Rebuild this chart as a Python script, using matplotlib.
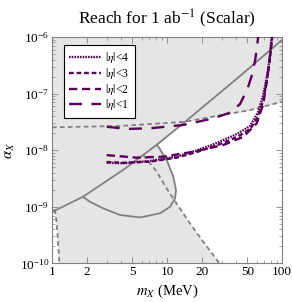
#!/usr/bin/env python3
"""Reach for 1 ab^-1 (Scalar): alpha_X vs m_X with existing bounds shaded."""
import matplotlib

matplotlib.use("Agg")
import matplotlib.pyplot as plt
import numpy as np

# existing constraints
diag_x = [1.0, 1.86, 4.14, 8.19, 14.3, 40.0, 96.0, 100.0]
diag_y = [8.1e-10, 1.51e-9, 4.47e-9, 1.26e-8, 3.16e-8, 1.8e-7, 8.26e-7, 8.85e-7]

top_x = [1.0, 3.9, 14.3, 30.0, 52.7, 100.0]
top_y = [2.54e-8, 2.68e-8, 3.18e-8, 4.2e-8, 5.1e-8, 7.2e-8]

loop_x = [8.19, 9.94, 11.35, 11.97, 11.74, 10.6, 8.69, 5.82, 3.9, 2.79, 2.14, 1.85]
loop_y = [1.26e-8, 6.7e-9, 3.4e-9, 1.98e-9, 1.41e-9, 1.0e-9, 7.7e-10, 6.5e-10,
          7.2e-10, 9.4e-10, 1.23e-9, 1.51e-9]

bd_left_x = [1.06, 1.09, 1.12, 1.15, 1.17]
bd_left_y = [9e-10, 6e-10, 3e-10, 1.4e-10, 8e-11]
bd_right_x = [6.22, 8.13, 9.94, 12.1, 15.85, 20.7, 27.9, 28.7]
bd_right_y = [8.2e-9, 4.2e-9, 2.1e-9, 1.15e-9, 5.1e-10, 2.4e-10, 1.07e-10, 8.5e-11]

# projected reach curves
eta4_x = [2.99, 4.17, 7.1, 12.1, 18.1, 27.0, 40.4, 52.7, 61.8, 68.4, 74.1, 78.7, 81.0]
eta4_y = [6.0e-9, 5.9e-9, 6.45e-9, 7.7e-9, 9.9e-9, 1.34e-8, 1.93e-8, 2.68e-8,
          4.7e-8, 9.1e-8, 2.1e-7, 4.8e-7, 1e-6]
eta3_x = [2.99, 4.17, 7.1, 12.1, 18.1, 27.0, 40.4, 52.7, 61.8, 68.4, 74.1, 78.7, 82.0]
eta3_y = [6.2e-9, 6.0e-9, 6.3e-9, 7.4e-9, 9.3e-9, 1.22e-8, 1.7e-8, 2.35e-8,
          3.9e-8, 7.5e-8, 1.8e-7, 4.3e-7, 1e-6]
eta2_x = [2.99, 5.45, 9.29, 16.9, 30.9, 46.1, 60.3, 68.8, 76.0, 81.3, 83.0]
eta2_y = [8.2e-9, 7.4e-9, 7.7e-9, 9.4e-9, 1.24e-8, 1.73e-8, 3.0e-8, 6.7e-8,
          2.6e-7, 8.85e-7, 1e-6]
eta1_x = [2.99, 4.5, 7.1, 13.9, 25.3, 34.1, 43.0, 50.0, 55.0, 58.5, 62.0]
eta1_y = [2.6e-8, 2.38e-8, 2.44e-8, 2.8e-8, 3.66e-8, 4.5e-8, 6.5e-8, 1.2e-7,
          2.2e-7, 4e-7, 1e-6]

x_ticks = [1, 2, 5, 10, 20, 50, 100]
y_ticks = [1e-10, 1e-9, 1e-8, 1e-7, 1e-6]

PURPLE = "#5a005a"
GRAY = "#808080"
SHADE = "#e5e5e5"

plt.rcParams.update(
    {
        "font.family": "serif",
        "font.serif": ["Liberation Serif", "DejaVu Serif"],
        "mathtext.fontset": "stix",
        "font.size": 9,
    }
)

fig = plt.figure(figsize=(2.92, 3.02), dpi=100)
ax = fig.add_axes([0.178, 0.1275, 0.788, 0.75])
ax.set_xscale("log")
ax.set_yscale("log")
ax.set_xlim(1, 100)
ax.set_ylim(1e-10, 1e-6)

# shaded excluded regions
ax.fill_between(diag_x, diag_y, 1e-5, color=SHADE, linewidth=0, zorder=0)
ax.fill_between(top_x, top_y, 1e-5, color=SHADE, linewidth=0, zorder=0)
ax.fill(bd_left_x + bd_right_x[::-1], bd_left_y + bd_right_y[::-1],
        color=SHADE, linewidth=0, zorder=0)
ax.fill(loop_x, loop_y, color=SHADE, linewidth=0, zorder=0)

dash = (0, (2.6, 1.8))
ax.plot(diag_x, diag_y, color=GRAY, lw=1.3, zorder=2)
ax.plot(loop_x, loop_y, color=GRAY, lw=1.3, zorder=2)
ax.plot(top_x, top_y, color=GRAY, lw=1.3, ls=dash, zorder=2)
ax.plot(bd_left_x, bd_left_y, color=GRAY, lw=1.3, ls=dash, zorder=2)
ax.plot(bd_right_x, bd_right_y, color=GRAY, lw=1.3, ls=dash, zorder=2)

lw = 1.7
ax.plot(eta4_x, eta4_y, color=PURPLE, lw=lw, ls=(0, (0.7, 0.45)), label=r"$|\eta|$<4", zorder=5)
ax.plot(eta3_x, eta3_y, color=PURPLE, lw=lw, ls=(0, (2.0, 1.2)), label=r"$|\eta|$<3", zorder=5)
ax.plot(eta2_x, eta2_y, color=PURPLE, lw=lw, ls=(0, (3.5, 2.0)), label=r"$|\eta|$<2", zorder=5)
ax.plot(eta1_x, eta1_y, color=PURPLE, lw=lw, ls=(0, (5.5, 4.0)), label=r"$|\eta|$<1", zorder=5)

ax.set_xticks(x_ticks)
ax.set_xticklabels([str(t) for t in x_ticks])
ax.set_yticks(y_ticks)
ax.tick_params(which="both", direction="in", top=True, right=True, color=GRAY,
               labelsize=9.5, pad=2)
ax.tick_params(which="major", length=4, width=0.6)
ax.tick_params(which="minor", length=2, width=0.5)
for s in ax.spines.values():
    s.set_color(GRAY)
    s.set_linewidth(0.8)

ax.set_xlabel(r"$m_X$ (MeV)", fontsize=10.5, labelpad=3)
ax.set_ylabel(r"$\alpha_X$", fontsize=10.5, labelpad=2)
ax.set_title(r"Reach for 1 ab$^{-1}$ (Scalar)", fontsize=12.5, pad=9)

leg = ax.legend(loc="upper left", bbox_to_anchor=(0.052, 0.965), borderaxespad=0,
                fontsize=8.5, handlelength=2.7, handletextpad=0.3, labelspacing=0.06,
                fancybox=False, framealpha=1, edgecolor="black", borderpad=0.45)
leg.get_frame().set_linewidth(0.8)

fig.savefig("out.png", dpi=100)
